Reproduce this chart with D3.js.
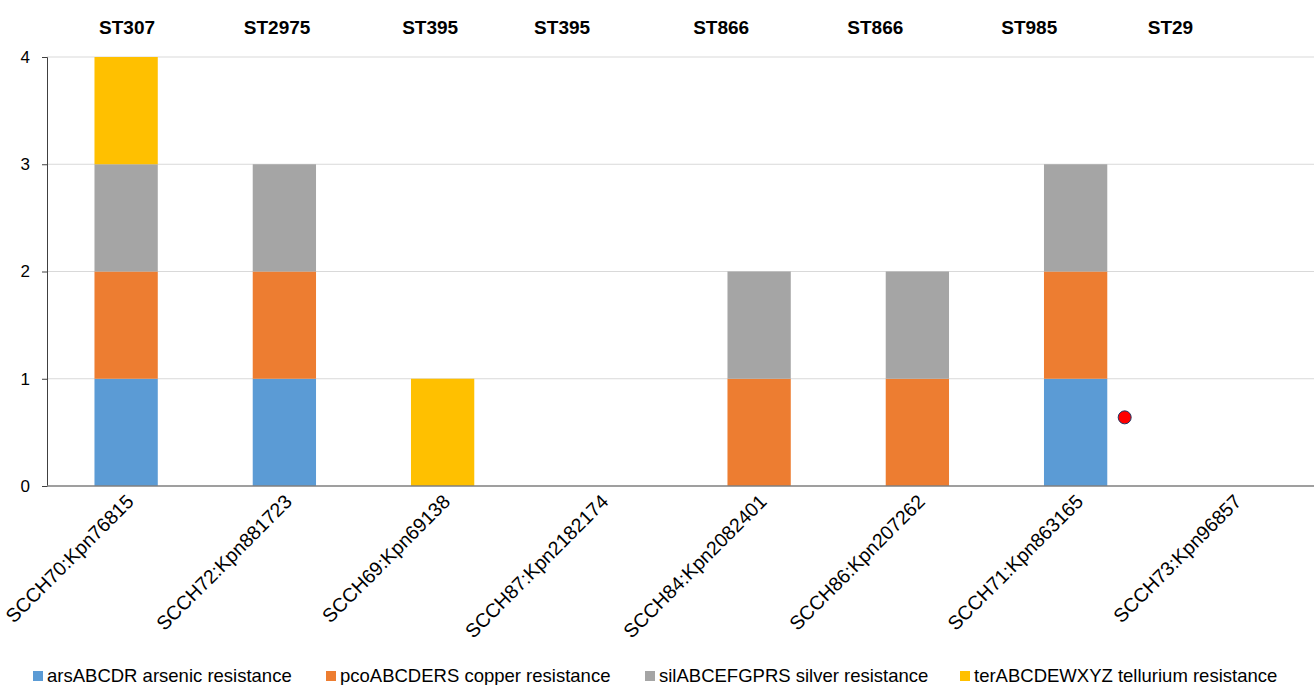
<!DOCTYPE html>
<html>
<head>
<meta charset="utf-8">
<script src="https://cdn.jsdelivr.net/npm/d3@7"></script>
<style>
  html, body { margin: 0; padding: 0; background: #fff; }
  svg { display: block; }
</style>
</head>
<body>
<svg id="chart" width="1314" height="685"></svg>
<script>
// Isolates (x categories)
const isolates = [
  "SCCH70:Kpn76815", "SCCH72:Kpn881723", "SCCH69:Kpn69138", "SCCH87:Kpn2182174",
  "SCCH84:Kpn2082401", "SCCH86:Kpn207262", "SCCH71:Kpn863165", "SCCH73:Kpn96857"
];
// Sequence types annotated above the plot
const sequenceTypes = ["ST307", "ST2975", "ST395", "ST395", "ST866", "ST866", "ST985", "ST29"];
// Resistance operon presence per isolate
const arsenic   = [1, 1, 0, 0, 0, 0, 1, 0];
const copper    = [1, 1, 0, 0, 1, 1, 1, 0];
const silver    = [1, 1, 0, 0, 1, 1, 1, 0];
const tellurium = [1, 0, 1, 0, 0, 0, 0, 0];
const seriesNames = [
  "arsABCDR arsenic resistance",
  "pcoABCDERS copper resistance",
  "silABCEFGPRS silver resistance",
  "terABCDEWXYZ tellurium resistance"
];
const yTicks = [0, 1, 2, 3, 4];
// Stray marker point (category position, value)
const markerPoint = [{ pos: 6.81, value: 0.64 }];
// ST label positions along the category axis (in category units)
const stPositions = [0.506, 1.454, 2.421, 3.255, 4.26, 5.234, 6.207, 7.099];

const colors = ["#5B9BD5", "#ED7D31", "#A5A5A5", "#FFC000"];

const svg = d3.select("#chart");
const margin = { left: 47, right: 1313, top: 57, bottom: 486 };

const rows = isolates.map((name, i) => ({
  name, s0: arsenic[i], s1: copper[i], s2: silver[i], s3: tellurium[i]
}));
const stack = d3.stack().keys(["s0", "s1", "s2", "s3"])(rows);

const x = d3.scaleBand().domain(isolates)
  .range([margin.left, margin.right])
  .paddingInner(0.6).paddingOuter(0.3);
const xPos = d3.scaleLinear().domain([0, isolates.length]).range([margin.left, margin.right]);
const y = d3.scaleLinear().domain([0, 4]).range([margin.bottom, margin.top]);

// gridlines
svg.append("g")
  .selectAll("line")
  .data(yTicks.filter(d => d > 0))
  .join("line")
  .attr("x1", margin.left).attr("x2", 1314)
  .attr("y1", d => y(d)).attr("y2", d => y(d))
  .attr("stroke", "#D9D9D9").attr("stroke-width", 1);

// bars
svg.append("g")
  .selectAll("g")
  .data(stack)
  .join("g")
  .attr("fill", (d, i) => colors[i])
  .selectAll("rect")
  .data(d => d.filter(v => v[1] > v[0]))
  .join("rect")
  .attr("x", d => x(d.data.name))
  .attr("width", x.bandwidth())
  .attr("y", d => y(d[1]))
  .attr("height", d => y(d[0]) - y(d[1]));

// y axis
const yAxis = svg.append("g")
  .attr("transform", `translate(${margin.left},0)`)
  .call(d3.axisLeft(y).tickValues(yTicks).tickFormat(d3.format("d")).tickSize(5).tickPadding(12));
yAxis.select(".domain").attr("stroke", "#404040");
yAxis.selectAll(".tick line").attr("stroke", "#404040");
yAxis.selectAll("text")
  .attr("font-family", "Liberation Sans, Arial, sans-serif")
  .attr("font-size", 17).attr("fill", "#000");

// x axis baseline
svg.append("line")
  .attr("x1", margin.left).attr("x2", 1314)
  .attr("y1", y(0)).attr("y2", y(0))
  .attr("stroke", "#7F7F7F").attr("stroke-width", 1.5);

// x labels, rotated
svg.append("g")
  .selectAll("text")
  .data(isolates)
  .join("text")
  .attr("transform", d => `translate(${x(d) + x.bandwidth() / 2 + 4},${y(0) + 12}) rotate(-45)`)
  .attr("text-anchor", "end")
  .attr("dy", "0.35em")
  .attr("font-family", "Liberation Sans, Arial, sans-serif")
  .attr("font-size", 19.5)
  .attr("fill", "#000")
  .text(d => d);

// ST annotations
svg.append("g")
  .selectAll("text")
  .data(sequenceTypes)
  .join("text")
  .attr("x", (d, i) => xPos(stPositions[i]))
  .attr("y", 34)
  .attr("text-anchor", "middle")
  .attr("font-family", "Liberation Sans, Arial, sans-serif")
  .attr("font-weight", "bold")
  .attr("font-size", 19)
  .attr("fill", "#000")
  .text(d => d);

// marker point
svg.append("g")
  .selectAll("circle")
  .data(markerPoint)
  .join("circle")
  .attr("cx", d => xPos(d.pos))
  .attr("cy", d => y(d.value))
  .attr("r", 6.5)
  .attr("fill", "#FF0000")
  .attr("stroke", "#1F3864")
  .attr("stroke-width", 1);

// legend
const legendX = [33, 326, 645, 960];
const legend = svg.append("g")
  .selectAll("g")
  .data(seriesNames)
  .join("g")
  .attr("transform", (d, i) => `translate(${legendX[i]},676)`);
legend.append("rect")
  .attr("x", 0).attr("y", -5).attr("width", 10).attr("height", 10)
  .attr("fill", (d, i) => colors[i]);
legend.append("text")
  .attr("x", 14).attr("y", 0).attr("dy", "0.35em")
  .attr("font-family", "Liberation Sans, Arial, sans-serif")
  .attr("font-size", 18.5).attr("fill", "#000")
  .text(d => d);
</script>
</body>
</html>
